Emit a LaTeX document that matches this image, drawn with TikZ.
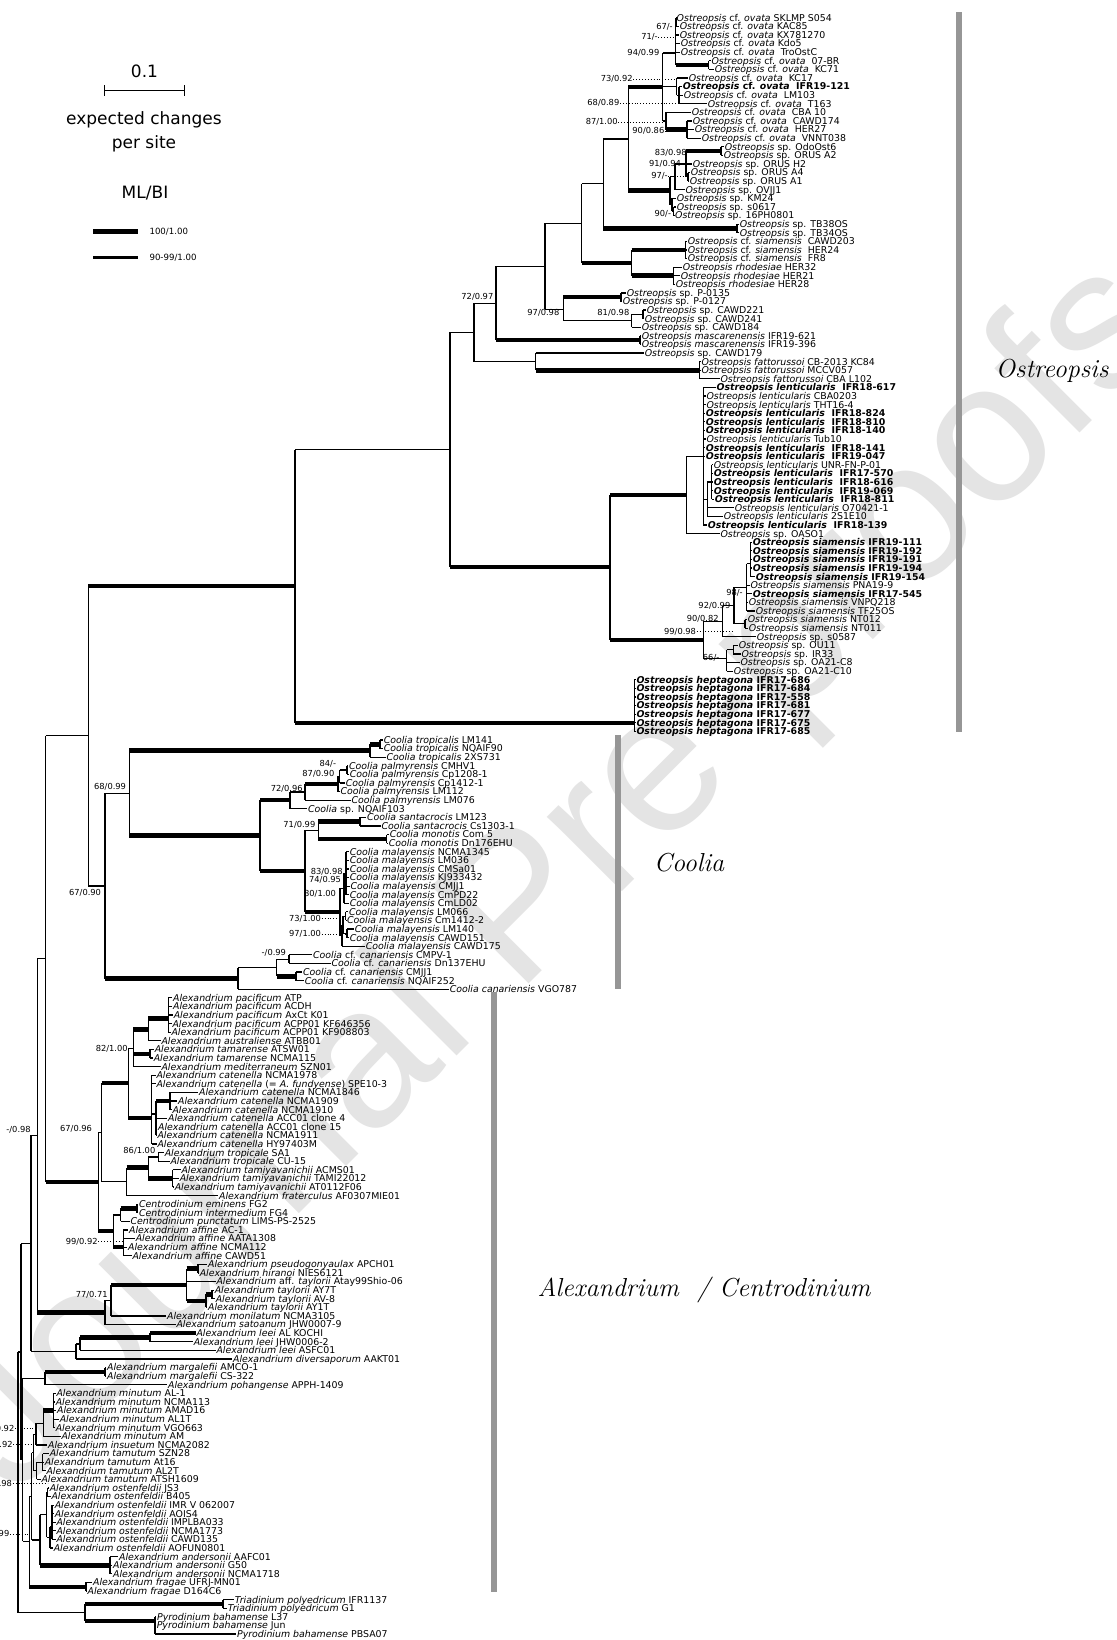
\documentclass[tikz,border=0pt]{standalone}
\usepackage{fontspec}
\newfontfamily\dv{DejaVu Sans}[ItalicFont={DejaVu Sans Oblique},BoldFont={DejaVu Sans Bold},BoldItalicFont={DejaVu Sans Bold Oblique}]
\newfontfamily\wmf{Liberation Sans}
\definecolor{barg}{RGB}{150,150,150}
\definecolor{wmg}{RGB}{228,228,228}
\newcommand\leaffont{\dv\fontsize{9.4}{9.4}\selectfont}
\newcommand\supfont{\dv\fontsize{8.3}{8.3}\selectfont}
\newcommand\Os{\textit{Ostreopsis}}
\newcommand\Co{\textit{Coolia}}
\newcommand\Ax{\textit{Alexandrium}}
\newcommand\iz[1]{\textit{#1}}
\newcounter{lbc}
\tikzset{
 vl/.style={line width=1.2pt},
 bn/.style={line width=1.2pt},
 bm/.style={line width=3pt},
 bt/.style={line width=4.5pt},
 leaf/.style={anchor=west, inner sep=0.6pt, font=\leaffont, text height=6.8pt, text depth=0pt},
 slab/.style={anchor=east, inner sep=0.5pt, font=\supfont},
 lead/.style={dotted, line width=0.9pt},
 cbar/.style={line width=5.5pt, draw=barg},
 clade/.style={font=\fontsize{26}{30}\selectfont\itshape},
 legt/.style={font=\dv\fontsize{17}{24}\selectfont, align=center},
 legs/.style={font=\dv\fontsize{8.6}{9}\selectfont, anchor=west},
}
\newcommand\lf[3]{\coordinate (L#1) at (#2,#1); \node[leaf] (T#1) at (L#1) {#3};}
\newcommand\lb[3]{\coordinate (L#1) at (#2,#1); \node[leaf] (T#1) at (L#1) {\bfseries #3};}
\newcommand\nd[3]{\coordinate (#1) at (#2,#3);}
\newcommand\bb[3]{\draw[vl] (#2) -- (#2 |- #3); \draw[#1] (#2 |- #3) -- (#3);}
\newcommand\bl[2]{\foreach \c in {#2} {\bb{bn}{#1}{\c}}}
\newcommand\bsp[3]{\stepcounter{lbc}\node[slab] (S\thelbc) at (#1,#2) {#3};}
\newcommand\bsd[4]{\stepcounter{lbc}\node[slab] (S\thelbc) at (#1,#2) {#3}; \draw[lead] (S\thelbc.east) -- (#4 |- S\thelbc.east);}
\begin{document}
\begin{tikzpicture}[x=1pt,y=-1pt]
\useasboundingbox (0,0) rectangle (1116,1640);
\fill[white] (0,0) rectangle (1116,1640);
\node[rotate=45, text=wmg, font=\wmf\fontsize{200}{200}\selectfont] (wmk) at (560,880) {Journal Pre-proofs};
\begin{scope}[y=-8.597pt, yshift=-9.203pt]
% ---------------- leaves: Ostreopsis
\lf{1}{675.9}{\Os{} cf. \iz{ovata} SKLMP S054}
\lf{2}{679}{\Os{} cf. \iz{ovata} KAC85}
\lf{3}{679}{\Os{} cf. \iz{ovata} KX781270}
\lf{4}{680}{\Os{} cf. \iz{ovata} Kdo5}
\lf{5}{680}{\Os{} cf. \iz{ovata}\ \ TroOstC}
\lf{6}{710.7}{\Os{} cf. \iz{ovata}\ \ 07-BR}
\lf{7}{714}{\Os{} cf. \iz{ovata}\ \ KC71}
\lf{8}{688}{\Os{} cf. \iz{ovata}\ \ KC17}
\lb{9}{682}{\Os{} cf. \iz{ovata}\ \ IFR19-121}
\lf{10}{683}{\Os{} cf. \iz{ovata}\ \ LM103}
\lf{11}{707}{\Os{} cf. \iz{ovata}\ \ T163}
\lf{12}{691}{\Os{} cf. \iz{ovata}\ \ CBA 10}
\lf{13}{692}{\Os{} cf. \iz{ovata}\ \ CAWD174}
\lf{14}{694}{\Os{} cf. \iz{ovata}\ \ HER27}
\lf{15}{701}{\Os{} cf. \iz{ovata}\ \ VNNT038}
\lf{16}{724}{\Os{} sp. OdoOst6}
\lf{17}{723}{\Os{} sp. ORUS A2}
\lf{18}{692}{\Os{} sp. ORUS H2}
\lf{19}{690}{\Os{} sp. ORUS A4}
\lf{20}{689}{\Os{} sp. ORUS A1}
\lf{21}{684.7}{\Os{} sp. OVJJ1}
\lf{22}{676}{\Os{} sp. KM24}
\lf{23}{676}{\Os{} sp. s0617}
\lf{24}{674.3}{\Os{} sp. 16PH0801}
\lf{25}{739}{\Os{} sp. TB38OS}
\lf{26}{739}{\Os{} sp. TB34OS}
\lf{27}{687}{\Os{} cf. \iz{siamensis}\ \ CAWD203}
\lf{28}{687}{\Os{} cf. \iz{siamensis}\ \ HER24}
\lf{29}{687}{\Os{} cf. \iz{siamensis}\ \ FR8}
\lf{30}{682}{\Os{} \iz{rhodesiae} HER32}
\lf{31}{680}{\Os{} \iz{rhodesiae} HER21}
\lf{32}{675}{\Os{} \iz{rhodesiae} HER28}
\lf{33}{626}{\Os{} sp. P-0135}
\lf{34}{622}{\Os{} sp. P-0127}
\lf{35}{646}{\Os{} sp. CAWD221}
\lf{36}{644}{\Os{} sp. CAWD241}
\lf{37}{641}{\Os{} sp. CAWD184}
\lf{38}{641}{\Os{} \iz{mascarenensis} IFR19-621}
\lf{39}{641}{\Os{} \iz{mascarenensis} IFR19-396}
\lf{40}{644}{\Os{} sp. CAWD179}
\lf{41}{700.7}{\Os{} \iz{fattorussoi} CB-2013 KC84}
\lf{42}{700.7}{\Os{} \iz{fattorussoi} MCCV057}
\lf{43}{719.7}{\Os{} \iz{fattorussoi} CBA L102}
\lb{44}{715.7}{\Os{} \iz{lenticularis}\ \ IFR18-617}
\lf{45}{705.7}{\Os{} \iz{lenticularis} CBA0203}
\lf{46}{705.7}{\Os{} \iz{lenticularis} THT16-4}
\lb{47}{705}{\Os{} \iz{lenticularis}\ \ IFR18-824}
\lb{48}{705}{\Os{} \iz{lenticularis}\ \ IFR18-810}
\lb{49}{705}{\Os{} \iz{lenticularis}\ \ IFR18-140}
\lf{50}{705.7}{\Os{} \iz{lenticularis} Tub10}
\lb{51}{705}{\Os{} \iz{lenticularis}\ \ IFR18-141}
\lb{52}{705}{\Os{} \iz{lenticularis}\ \ IFR19-047}
\lf{53}{713}{\Os{} \iz{lenticularis} UNR-FN-P-01}
\lb{54}{713}{\Os{} \iz{lenticularis}\ \ IFR17-570}
\lb{55}{713}{\Os{} \iz{lenticularis}\ \ IFR18-616}
\lb{56}{713}{\Os{} \iz{lenticularis}\ \ IFR19-069}
\lb{57}{714}{\Os{} \iz{lenticularis}\ \ IFR18-811}
\lf{58}{734}{\Os{} \iz{lenticularis} O70421-1}
\lf{59}{723}{\Os{} \iz{lenticularis} 2S1E10}
\lb{60}{707}{\Os{} \iz{lenticularis}\ \ IFR18-139}
\lf{61}{719.7}{\Os{} sp. OASO1}
\lb{62}{752}{\Os{} \iz{siamensis} IFR19-111}
\lb{63}{752}{\Os{} \iz{siamensis} IFR19-192}
\lb{64}{752}{\Os{} \iz{siamensis} IFR19-191}
\lb{65}{752}{\Os{} \iz{siamensis} IFR19-194}
\lb{66}{755}{\Os{} \iz{siamensis} IFR19-154}
\lf{67}{749.7}{\Os{} \iz{siamensis} PNA19-9}
\lb{68}{752}{\Os{} \iz{siamensis} IFR17-545}
\lf{69}{748}{\Os{} \iz{siamensis} VNPQ218}
\lf{70}{755}{\Os{} \iz{siamensis} TF25OS}
\lf{71}{747}{\Os{} \iz{siamensis} NT012}
\lf{72}{748}{\Os{} \iz{siamensis} NT011}
\lf{73}{756}{\Os{} sp. s0587}
\lf{74}{738}{\Os{} sp. OU11}
\lf{75}{740.7}{\Os{} sp. IR33}
\lf{76}{739.7}{\Os{} sp. OA21-C8}
\lf{77}{733}{\Os{} sp. OA21-C10}
\lb{78}{635.7}{\Os{} \iz{heptagona} IFR17-686}
\lb{79}{635.7}{\Os{} \iz{heptagona} IFR17-684}
\lb{80}{635.7}{\Os{} \iz{heptagona} IFR17-558}
\lb{81}{635.7}{\Os{} \iz{heptagona} IFR17-681}
\lb{82}{635.7}{\Os{} \iz{heptagona} IFR17-677}
\lb{83}{635.7}{\Os{} \iz{heptagona} IFR17-675}
\lb{84}{635.7}{\Os{} \iz{heptagona} IFR17-685}
% ---------------- leaves: Coolia
\lf{85}{383}{\Co{} \iz{tropicalis} LM141}
\lf{86}{383}{\Co{} \iz{tropicalis} NQAIF90}
\lf{87}{385.7}{\Co{} \iz{tropicalis} 2XS731}
\lf{88}{348.3}{\Co{} \iz{palmyrensis} CMHV1}
\lf{89}{349}{\Co{} \iz{palmyrensis} Cp1208-1}
\lf{90}{345}{\Co{} \iz{palmyrensis} Cp1412-1}
\lf{91}{339.7}{\Co{} \iz{palmyrensis} LM112}
\lf{92}{350.7}{\Co{} \iz{palmyrensis} LM076}
\lf{93}{307.3}{\Co{} sp. NQAIF103}
\lf{94}{366.3}{\Co{} \iz{santacrocis} LM123}
\lf{95}{380.7}{\Co{} \iz{santacrocis} Cs1303-1}
\lf{96}{389}{\Co{} \iz{monotis} Com 5}
\lf{97}{388}{\Co{} \iz{monotis} Dn176EHU}
\lf{98}{349}{\Co{} \iz{malayensis} NCMA1345}
\lf{99}{349}{\Co{} \iz{malayensis} LM036}
\lf{100}{349}{\Co{} \iz{malayensis} CMSa01}
\lf{101}{349}{\Co{} \iz{malayensis} KJ933432}
\lf{102}{349.7}{\Co{} \iz{malayensis} CMJJ1}
\lf{103}{349}{\Co{} \iz{malayensis} CmPD22}
\lf{104}{349}{\Co{} \iz{malayensis} CmLD02}
\lf{105}{348.3}{\Co{} \iz{malayensis} LM066}
\lf{106}{346.3}{\Co{} \iz{malayensis} Cm1412-2}
\lf{107}{354}{\Co{} \iz{malayensis} LM140}
\lf{108}{349}{\Co{} \iz{malayensis} CAWD151}
\lf{109}{365}{\Co{} \iz{malayensis} CAWD175}
\lf{110}{312.3}{\Co{} cf. \iz{canariensis} CMPV-1}
\lf{111}{330.7}{\Co{} cf. \iz{canariensis} Dn137EHU}
\lf{112}{302.3}{\Co{} cf. \iz{canariensis} CMJJ1}
\lf{113}{304}{\Co{} cf. \iz{canariensis} NQAIF252}
\lf{114}{449}{\Co{} \iz{canariensis} VGO787}
% ---------------- leaves: Alexandrium etc.
\lf{115}{172.3}{\Ax{} \iz{pacificum} ATP}
\lf{116}{172.3}{\Ax{} \iz{pacificum} ACDH}
\lf{117}{173}{\Ax{} \iz{pacificum} AxCt K01}
\lf{118}{171.7}{\Ax{} \iz{pacificum} ACPP01 KF646356}
\lf{119}{170.7}{\Ax{} \iz{pacificum} ACPP01 KF908803}
\lf{120}{160.7}{\Ax{} \iz{australiense} ATBB01}
\lf{121}{154}{\Ax{} \iz{tamarense} ATSW01}
\lf{122}{153}{\Ax{} \iz{tamarense} NCMA115}
\lf{123}{160.7}{\Ax{} \iz{mediterraneum} SZN01}
\lf{124}{155.7}{\Ax{} \iz{catenella} NCMA1978}
\lf{125}{155.7}{\Ax{} \iz{catenella} (= \iz{A. fundyense}) SPE10-3}
\lf{126}{198.3}{\Ax{} \iz{catenella} NCMA1846}
\lf{127}{177.3}{\Ax{} \iz{catenella} NCMA1909}
\lf{128}{171.7}{\Ax{} \iz{catenella} NCMA1910}
\lf{129}{167.3}{\Ax{} \iz{catenella} ACC01 clone 4}
\lf{130}{157.3}{\Ax{} \iz{catenella} ACC01 clone 15}
\lf{131}{156.7}{\Ax{} \iz{catenella} NCMA1911}
\lf{132}{156.7}{\Ax{} \iz{catenella} HY97403M}
\lf{133}{164}{\Ax{} \iz{tropicale} SA1}
\lf{134}{169.7}{\Ax{} \iz{tropicale} CU-15}
\lf{135}{180.7}{\Ax{} \iz{tamiyavanichii} ACMS01}
\lf{136}{179}{\Ax{} \iz{tamiyavanichii} TAMI22012}
\lf{137}{174}{\Ax{} \iz{tamiyavanichii} AT0112F06}
\lf{138}{218.3}{\Ax{} \iz{fraterculus} AF0307MIE01}
\lf{139}{138.3}{\iz{Centrodinium eminens} FG2}
\lf{140}{138.3}{\iz{Centrodinium intermedium} FG4}
\lf{141}{129.7}{\iz{Centrodinium punctatum} LIMS-PS-2525}
\lf{142}{128.3}{\Ax{} \iz{affine} AC-1}
\lf{143}{135}{\Ax{} \iz{affine} AATA1308}
\lf{144}{127.3}{\Ax{} \iz{affine} NCMA112}
\lf{145}{131.7}{\Ax{} \iz{affine} CAWD51}
\lf{146}{207.3}{\Ax{} \iz{pseudogonyaulax} APCH01}
\lf{147}{199}{\Ax{} \iz{hiranoi} NIES6121}
\lf{148}{215.7}{\Ax{} aff. \iz{taylorii} Atay99Shio-06}
\lf{149}{214}{\Ax{} \iz{taylorii} AY7T}
\lf{150}{215}{\Ax{} \iz{taylorii} AV-8}
\lf{151}{207.3}{\Ax{} \iz{taylorii} AY1T}
\lf{152}{166.3}{\Ax{} \iz{monilatum} NCMA3105}
\lf{153}{175.7}{\Ax{} \iz{satoanum} JHW0007-9}
\lf{154}{195.7}{\Ax{} \iz{leei} AL KOCHI}
\lf{155}{193}{\Ax{} \iz{leei} JHW0006-2}
\lf{156}{215.7}{\Ax{} \iz{leei} ASFC01}
\lf{157}{232.3}{\Ax{} \iz{diversaporum} AAKT01}
\lf{158}{106.3}{\Ax{} \iz{margalefii} AMCO-1}
\lf{159}{106.3}{\Ax{} \iz{margalefii} CS-322}
\lf{160}{167.3}{\Ax{} \iz{pohangense} APPH-1409}
\lf{161}{55.7}{\Ax{} \iz{minutum} AL-1}
\lf{162}{55}{\Ax{} \iz{minutum} NCMA113}
\lf{163}{56.3}{\Ax{} \iz{minutum} AMAD16}
\lf{164}{59}{\Ax{} \iz{minutum} AL1T}
\lf{165}{55}{\Ax{} \iz{minutum} VGO663}
\lf{166}{60.7}{\Ax{} \iz{minutum} AM}
\lf{167}{47.3}{\Ax{} \iz{insuetum} NCMA2082}
\lf{168}{49}{\Ax{} \iz{tamutum} SZN28}
\lf{169}{44}{\Ax{} \iz{tamutum} At16}
\lf{170}{45.7}{\Ax{} \iz{tamutum} AL2T}
\lf{171}{40.7}{\Ax{} \iz{tamutum} ATSH1609}
\lf{172}{49}{\Ax{} \iz{ostenfeldii} JS3}
\lf{173}{50.7}{\Ax{} \iz{ostenfeldii} B405}
\lf{174}{54}{\Ax{} \iz{ostenfeldii} IMR V 062007}
\lf{175}{54}{\Ax{} \iz{ostenfeldii} AOIS4}
\lf{176}{55.7}{\Ax{} \iz{ostenfeldii} IMPLBA033}
\lf{177}{55.7}{\Ax{} \iz{ostenfeldii} NCMA1773}
\lf{178}{55.7}{\Ax{} \iz{ostenfeldii} CAWD135}
\lf{179}{53}{\Ax{} \iz{ostenfeldii} AOFUN0801}
\lf{180}{118.3}{\Ax{} \iz{andersonii} AAFC01}
\lf{181}{112.3}{\Ax{} \iz{andersonii} G50}
\lf{182}{112.3}{\Ax{} \iz{andersonii} NCMA1718}
\lf{183}{92.3}{\Ax{} \iz{fragae} UFRJ-MN01}
\lf{184}{86.8}{\Ax{} \iz{fragae} D164C6}
\lf{185}{234}{\iz{Triadinium polyedricum} IFR1137}
\lf{186}{227}{\iz{Triadinium polyedricum} G1}
\lf{187}{156.3}{\iz{Pyrodinium bahamense} L37}
\lf{188}{156}{\iz{Pyrodinium bahamense} Jun}
\lf{189}{236.3}{\iz{Pyrodinium bahamense} PBSA07}
% ---------------- internal nodes: Ostreopsis
\nd{o67}{676}{1.5} \nd{o94}{675.5}{5.1} \nd{o6}{708.5}{6.5}
\nd{o68}{679}{10} \nd{o73}{676.5}{9} \nd{o90}{687}{14} \nd{o87}{666}{13}
\nd{oov}{662.7}{9.05}
\nd{o83}{721}{16.5} \nd{oA2}{688}{19.5} \nd{o91}{686}{18} \nd{o97}{675}{19.5}
\nd{o90b}{673.5}{23.5} \nd{oKM}{672}{22.75} \nd{o670}{670}{21.1}
\nd{og1}{628.3}{15.1} \nd{oTB}{737}{25.5} \nd{oA4}{603.3}{20.3}
\nd{ocfs}{685.5}{28} \nd{orho}{673.3}{31} \nd{osr}{631.7}{29.5} \nd{oA5}{581.7}{24.9}
\nd{opP}{621}{33.5} \nd{oc81}{643}{35.5} \nd{oc3}{631.7}{36.25} \nd{on97}{563.3}{34.9}
\nd{oP1}{545}{29.9} \nd{omas}{640}{38.5} \nd{on72}{496}{34.2}
\nd{ofat}{699.3}{42} \nd{ofc}{535.5}{41} \nd{onup}{474}{37.6}
\nd{olA}{711.7}{55} \nd{olB}{707.3}{57} \nd{olen1}{703.3}{52} \nd{olen}{686.7}{56.5}
\nd{os5}{750.5}{64.5} \nd{os98}{746.7}{67.25} \nd{osNT}{745}{71.5} \nd{os92}{734}{69.4}
\nd{os90}{722.7}{71.2} \nd{oou1}{733.3}{74.5} \nd{oou}{726.7}{75.5} \nd{oSG}{703.3}{73.35}
\nd{oLS}{610}{64.9} \nd{ohep}{634.3}{83} \nd{oOT}{450}{51.25} \nd{oOst}{295}{67.1}
% Coolia
\nd{ctr2}{380}{85.5} \nd{ctrp}{370}{86.25}
\nd{cp84}{347}{88.5} \nd{cp87}{339.5}{89.25} \nd{cpal}{338}{90.1} \nd{cpal2}{305}{91.05} \nd{cpal3}{290}{92}
\nd{csc}{360}{94.5} \nd{cmo}{386.7}{96.5} \nd{cscm}{318.3}{95.5}
\nd{cmA}{346}{100.5} \nd{cm74}{344}{102.25} \nd{cm73}{345.5}{105.5} \nd{cm97}{347}{107.5}
\nd{cm2}{343}{106.5} \nd{cm3}{342}{107.75} \nd{cmal}{340}{105}
\nd{cmal0}{305}{100.25}
\nd{cB}{260}{96.1} \nd{ccool}{129.3}{91.2}
\nd{ccn1}{289}{110.5} \nd{ccn2}{296}{112.5} \nd{ccnA}{276.7}{111.5} \nd{ccn}{238}{112.75}
\nd{c67}{105}{101.98} \nd{big1}{88.3}{84.5}
% Alexandrium
\nd{apac}{168.3}{117.4} \nd{apa}{148.3}{118.7} \nd{atam}{150}{121.5} \nd{a82}{133.3}{120.85}
\nd{axc3}{170}{127} \nd{axc2}{156}{128.5} \nd{axc1}{151.7}{129} \nd{axT}{128.3}{124.9}
\nd{atrop}{158.3}{133.5} \nd{atmy}{172.5}{136} \nd{a86}{148.3}{134.75} \nd{anF}{126.7}{136.4}
\nd{a67}{101.7}{130.65}
\nd{ac24}{137}{139.5} \nd{acen}{120.7}{140.25} \nd{aaff}{123.3}{144} \nd{aca}{113.3}{142.1}
\nd{aG}{98.3}{136.4} \nd{N457}{45.7}{110.45}
\nd{apgh}{198}{146.5} \nd{atay2}{212}{149.5} \nd{atay}{206}{150.25} \nd{ah1}{186.7}{148.4}
\nd{ah2}{111}{150.2} \nd{ah3}{105}{151.6} \nd{N373}{37.3}{131}
\nd{alee1}{150}{154.5} \nd{aleeA}{80}{155.25} \nd{aleeD}{76}{156.1}
\nd{amar}{105}{158.5} \nd{amarp}{45}{159.25}
\nd{amA}{53.5}{163} \nd{amB}{43.3}{164.5} \nd{amC}{36}{165.75}
\nd{atA}{42.7}{169} \nd{atB}{36.7}{170} \nd{amD}{33.3}{167.9}
\nd{aoC}{47.5}{172.5} \nd{aoA}{52}{176.5} \nd{aoB}{50}{177.75} \nd{aoD}{46.7}{175.1}
\nd{aand}{110}{181} \nd{anMA}{40}{178.05} \nd{anMO}{31.5}{172.97}
\nd{afrg}{86}{183.5} \nd{anMF}{29.3}{178.2} \nd{anMP}{22.7}{168.7}
\nd{N31}{31}{143.6} \nd{N22}{21}{156.2}
\nd{atri}{223}{185.5} \nd{apyr}{155}{187.5} \nd{aTP}{85}{186.5} \nd{root}{18}{171.3}
% ---------------- branches: Ostreopsis
\bl{o67}{L1,L2}
\bl{o94}{o67,L3,L4,L5} \bb{bt}{o94}{o6}
\bl{o6}{L6,L7}
\bl{o68}{L9,L10,L11}
\bl{o73}{L8,o68}
\bl{o90}{L13,L14,L15}
\bb{bn}{o87}{L12} \bb{bt}{o87}{o90}
\bl{oov}{o94,o73,o87}
\bl{o83}{L16,L17}
\bl{oA2}{L19,L20}
\bb{bt}{o91}{o83} \bl{o91}{L18,oA2}
\bl{o97}{o91,L21}
\bl{o90b}{L23,L24}
\bl{oKM}{L22,o90b}
\bl{o670}{o97,oKM}
\bb{bt}{og1}{oov} \bb{bt}{og1}{o670}
\bl{oTB}{L25,L26}
\bb{bn}{oA4}{og1} \bb{bt}{oA4}{oTB}
\bl{ocfs}{L27,L28,L29}
\bl{orho}{L30,L31,L32}
\bb{bt}{osr}{ocfs} \bb{bt}{osr}{orho}
\bb{bn}{oA5}{oA4} \bb{bt}{oA5}{osr}
\bl{opP}{L33,L34}
\bl{oc81}{L35,L36}
\bl{oc3}{oc81,L37}
\bb{bt}{on97}{opP} \bb{bn}{on97}{oc3}
\bl{oP1}{oA5,on97}
\bl{omas}{L38,L39}
\bb{bn}{on72}{oP1} \bb{bt}{on72}{omas}
\bl{ofat}{L41,L42,L43}
\bb{bn}{ofc}{L40} \bb{bt}{ofc}{ofat}
\bl{onup}{on72,ofc}
\bl{olA}{L53,L54,L55,L56,L57}
\bl{olB}{olA,L58,L59}
\bl{olen1}{L44,L45,L46,L47,L48,L49,L50,L51,L52,olB,L60}
\bl{olen}{olen1,L61}
\bl{os5}{L62,L63,L64,L65,L66}
\bl{os98}{os5,L67,L68,L69,L70}
\bl{osNT}{L71,L72}
\bl{os92}{os98,osNT}
\bl{os90}{os92,L73}
\bl{oou1}{L74,L75}
\bl{oou}{oou1,L76,L77}
\bl{oSG}{os90,oou}
\bb{bt}{oLS}{olen} \bb{bt}{oLS}{oSG}
\bl{ohep}{L78,L79,L80,L81,L82,L83,L84}
\bb{bn}{oOT}{onup} \bb{bt}{oOT}{oLS}
\bb{bn}{oOst}{oOT} \bb{bt}{oOst}{ohep}
% Coolia
\bl{ctr2}{L85,L86}
\bb{bt}{ctrp}{ctr2} \bb{bn}{ctrp}{L87}
\bl{cp84}{L88,L89}
\bl{cp87}{cp84,L90}
\bl{cpal}{cp87,L91}
\bb{bt}{cpal2}{cpal} \bb{bn}{cpal2}{L92}
\bl{cpal3}{cpal2,L93}
\bl{csc}{L94,L95}
\bl{cmo}{L96,L97}
\bb{bt}{cscm}{csc} \bb{bt}{cscm}{cmo}
\bl{cmA}{L98,L99,L100,L101,L102,L103}
\bl{cm74}{cmA,L104}
\bl{cm73}{L105,L106}
\bl{cm97}{L107,L108}
\bl{cm2}{cm73,cm97}
\bl{cm3}{cm2,L109}
\bl{cmal}{cm74,cm3}
\bb{bn}{cmal0}{cscm} \bb{bt}{cmal0}{cmal}
\bb{bt}{cB}{cpal3} \bb{bt}{cB}{cmal0}
\bb{bt}{ccool}{ctrp} \bb{bt}{ccool}{cB}
\bl{ccn1}{L110,L111}
\bl{ccn2}{L112,L113}
\bb{bn}{ccnA}{ccn1} \bb{bt}{ccnA}{ccn2}
\bl{ccn}{ccnA,L114}
\bb{bn}{c67}{ccool} \bb{bt}{c67}{ccn}
\bb{bt}{big1}{oOst} \bb{bn}{big1}{c67}
% Alexandrium
\bl{apac}{L115,L116,L117,L118,L119}
\bb{bt}{apa}{apac} \bb{bn}{apa}{L120}
\bl{atam}{L121,L122}
\bb{bt}{a82}{apa} \bb{bt}{a82}{atam} \bb{bn}{a82}{L123}
\bl{axc3}{L126,L127,L128}
\bb{bt}{axc2}{axc3} \bl{axc2}{L129,L130,L131}
\bl{axc1}{L124,L125,axc2,L132}
\bb{bn}{axT}{a82} \bb{bt}{axT}{axc1}
\bl{atrop}{L133,L134}
\bl{atmy}{L135,L136,L137}
\bb{bn}{a86}{atrop} \bb{bt}{a86}{atmy}
\bb{bt}{anF}{a86} \bb{bn}{anF}{L138}
\bb{bt}{a67}{axT} \bb{bn}{a67}{anF}
\bl{ac24}{L139,L140}
\bb{bt}{acen}{ac24} \bb{bn}{acen}{L141}
\bl{aaff}{L142,L143,L144,L145}
\bb{bn}{aca}{acen} \bb{bt}{aca}{aaff}
\bb{bn}{aG}{a67} \bb{bt}{aG}{aca}
\bb{bn}{N457}{big1} \bb{bt}{N457}{aG}
\bl{apgh}{L146,L147}
\bl{atay2}{L149,L150}
\bb{bt}{atay}{atay2} \bb{bn}{atay}{L151}
\bb{bt}{ah1}{apgh} \bb{bn}{ah1}{L148} \bb{bt}{ah1}{atay}
\bb{bt}{ah2}{ah1} \bb{bn}{ah2}{L152}
\bl{ah3}{ah2,L153}
\bb{bn}{N373}{N457} \bb{bt}{N373}{ah3}
\bb{bt}{alee1}{L154} \bb{bn}{alee1}{L155}
\bb{bt}{aleeA}{alee1} \bb{bn}{aleeA}{L156}
\bl{aleeD}{aleeA,L157}
\bl{amar}{L158,L159}
\bb{bt}{amarp}{amar} \bb{bn}{amarp}{L160}
\bl{amA}{L161,L162,L163,L164,L165}
\bb{bt}{amB}{amA} \bb{bn}{amB}{L166}
\bl{amC}{amB,L167}
\bl{atA}{L168,L169,L170}
\bl{atB}{atA,L171}
\bl{amD}{amC,atB}
\bl{aoC}{L172,L173}
\bl{aoA}{L174,L175,L176,L177,L178}
\bl{aoB}{aoA,L179}
\bl{aoD}{aoC,aoB}
\bl{aand}{L180,L181,L182}
\bb{bn}{anMA}{aoD} \bb{bt}{anMA}{aand}
\bl{anMO}{amD,anMA}
\bl{afrg}{L183,L184}
\bb{bn}{anMF}{anMO} \bb{bt}{anMF}{afrg}
\bl{anMP}{amarp,anMF}
\bl{N31}{N373,aleeD}
\bl{N22}{N31,anMP}
\bl{atri}{L185,L186}
\bl{apyr}{L187,L188,L189}
\bb{bt}{aTP}{atri} \bb{bt}{aTP}{apyr}
\bl{root}{N22,aTP}
\end{scope}
% ---------------- support values
\bsp{673.3}{26.7}{67/-}
\bsd{658.3}{37.3}{71/-}{o94}
\bsp{660}{53.3}{94/0.99}
\bsd{633.3}{79}{73/0.92}{o73}
\bsd{620}{103.3}{68/0.89}{o68}
\bsd{618.3}{122.3}{87/1.00}{o87}
\bsd{665}{131}{90/0.86}{o90}
\bsp{687.3}{153.3}{83/0.98}
\bsp{681.7}{164.3}{91/0.94}
\bsd{668.3}{176.2}{97/-}{oA2}
\bsp{671.7}{214.3}{90/-}
\bsp{494}{297}{72/0.97}
\bsp{560}{312.7}{97/0.98}
\bsp{630}{312.7}{81/0.98}
\bsp{743.3}{592.7}{98/-}
\bsp{731}{606}{92/0.99}
\bsp{719.3}{618.3}{90/0.82}
\bsd{696.7}{631.7}{99/0.98}{os92}
\bsp{720}{657.3}{66/-}
\bsp{126.7}{786.7}{68/0.99}
\bsp{101.7}{892.7}{67/0.90}
\bsp{303.3}{788.3}{72/0.96}
\bsp{336.7}{763.3}{84/-}
\bsp{335}{773.3}{87/0.90}
\bsp{316}{824.3}{71/0.99}
\bsp{343.3}{871.7}{83/0.98}
\bsp{341.7}{880}{74/0.95}
\bsp{336.7}{893.3}{80/1.00}
\bsd{321.7}{918.3}{73/1.00}{cm73}
\bsd{321.7}{934}{97/1.00}{cm97}
\bsp{286.7}{952.7}{-/0.99}
\bsp{128.3}{1048.3}{82/1.00}
\bsp{92.7}{1128.3}{67/0.96}
\bsp{156}{1150.7}{86/1.00}
\bsd{98.3}{1241.7}{99/0.92}{aaff}
\bsp{108.3}{1295}{77/0.71}
\bsp{31.4}{1129.7}{-/0.98}
\bsd{15}{1428.3}{-/0.92}{amC}
\bsd{13.3}{1444.3}{-/0.92}{amD}
\bsd{12.7}{1483.3}{-/0.98}{aoC}
\bsd{10}{1534}{-/0.99}{anMF}
% ---------------- clade bars and names
\coordinate (bO1) at (959,12.5); \coordinate (bO2) at (959,732);
\coordinate (bC1) at (618,735); \coordinate (bC2) at (618,988.5);
\coordinate (bA1) at (494,991.5); \coordinate (bA2) at (494,1592);
\draw[cbar] (bO1) -- (bO2);
\draw[cbar] (bC1) -- (bC2);
\draw[cbar] (bA1) -- (bA2);
\node[clade] (nmO) at (1052,371) {Ostreopsis};
\node[clade] (nmC) at (689,863) {Coolia};
\node[clade] (nmA) at (704,1290) {Alexandrium\ \ / Centrodinium};
% ---------------- legend
\node[legt] (sc0) at (144.5,71) {0.1};
\coordinate (sbL) at (104.5,90.7); \coordinate (sbR) at (184.5,90.7);
\draw[line width=1.3pt] (sbL) -- (sbR);
\draw[line width=1.3pt] ([yshift=5.5pt]sbL) -- ([yshift=-5.5pt]sbL);
\draw[line width=1.3pt] ([yshift=5.5pt]sbR) -- ([yshift=-5.5pt]sbR);
\node[legt] (ecps) at (144,132) {expected changes\\per site};
\node[legt] (mlbi) at (145,193) {ML/BI};
\coordinate (lg1a) at (93.3,231.7); \coordinate (lg1b) at (138.3,231.7);
\coordinate (lg2a) at (93.3,257.3); \coordinate (lg2b) at (138.3,257.3);
\draw[line width=4.7pt] (lg1a) -- (lg1b);
\draw[line width=3.2pt] (lg2a) -- (lg2b);
\node[legs] (lgt1) at (146,231.7) {100/1.00};
\node[legs] (lgt2) at (146,257.3) {90-99/1.00};
\end{tikzpicture}
\end{document}
